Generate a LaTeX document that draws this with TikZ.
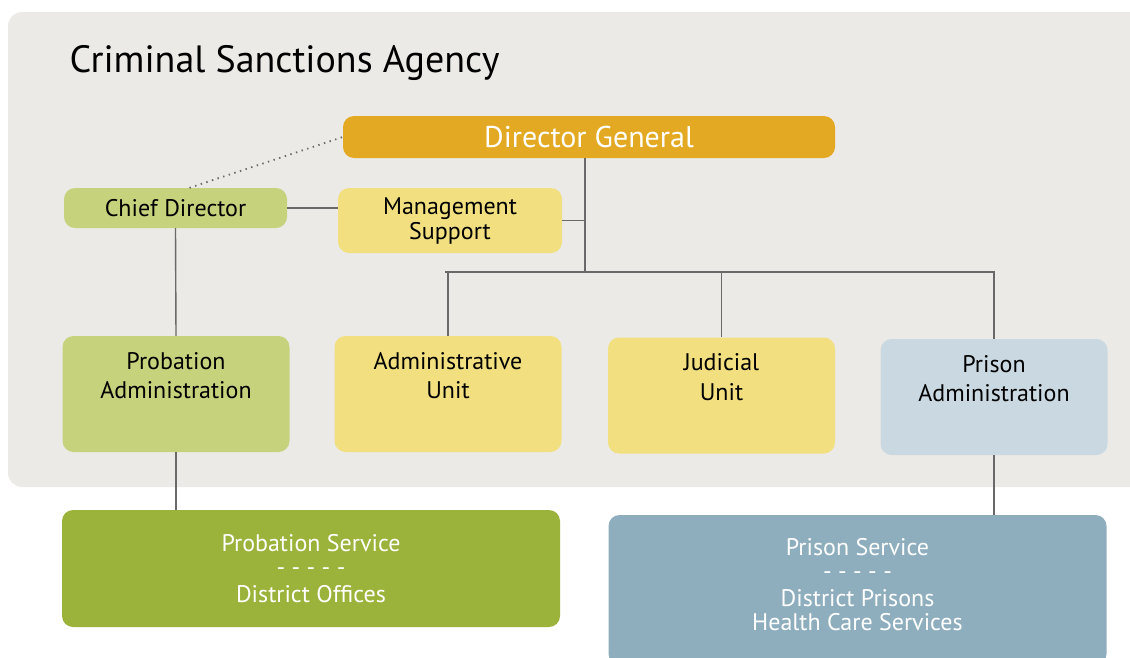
\documentclass[tikz,border=0pt]{standalone}
\usepackage{fontspec}
\setmainfont{PT Sans}
\usetikzlibrary{positioning,calc}
\definecolor{bggrey}{HTML}{ECEAE6}
\definecolor{dggold}{HTML}{E4A922}
\definecolor{lightgreen}{HTML}{C7D27C}
\definecolor{lightyellow}{HTML}{F1DF80}
\definecolor{lightblue}{HTML}{CAD9E1}
\definecolor{olive}{HTML}{9BB33B}
\definecolor{steelblue}{HTML}{8EAEBE}
\definecolor{linegrey}{HTML}{6A6868}

\begin{document}
\begin{tikzpicture}[x=1pt,y=-1pt,
    box/.style={rounded corners=11pt, inner sep=0pt, align=center},
    unitbox/.style={box, minimum width=227pt, minimum height=116pt},
    unittext/.style={anchor=north, align=center, font=\fontsize{24}{29.5}\selectfont},
    service/.style={box, minimum width=498pt},
    servicetext/.style={align=center, text=white, font=\fontsize{24}{24}\selectfont},
    link/.style={draw=linegrey, line width=1.4pt}]
    \clip (0,0) rectangle (1130,657);
    \useasboundingbox (0,0) rectangle (1130,657);
    % grey panel
    \fill[bggrey, rounded corners=14pt] (8,12) rectangle (1160,487);
    \node[anchor=base west, font=\fontsize{38}{40}\selectfont] (title) at (66,72) {Criminal Sanctions Agency};

    \node[box, fill=dggold, minimum width=492pt, minimum height=42pt, text=white,
          font=\fontsize{30}{30}\selectfont] (dg) at (589,137) {Director General};
    \node[box, fill=lightgreen, minimum width=223pt, minimum height=40pt,
          font=\fontsize{24}{26}\selectfont] (chief) at (175.5,208) {Chief Director};
    \node[box, fill=lightyellow, minimum width=224pt, minimum height=65pt,
          font=\fontsize{24}{25}\selectfont] (mgmt) at (450,220.5) {Management\\Support};

    \node[unitbox, fill=lightgreen] (probadm) at (176,394) {};
    \node[unitbox, fill=lightyellow] (admunit) at (448,394) {};
    \node[unitbox, fill=lightyellow] (judunit) at (721.5,395.5) {};
    \node[unitbox, fill=lightblue] (prisadm) at (994,397) {};
    \node[unittext] (probadmtext) at ([yshift=-13pt]probadm.north) {Probation\\Administration};
    \node[unittext] (admunittext) at ([yshift=-13pt]admunit.north) {Administrative\\Unit};
    \node[unittext] (judunittext) at ([yshift=-13pt]judunit.north) {Judicial\\Unit};
    \node[unittext] (prisadmtext) at ([yshift=-13pt]prisadm.north) {Prison\\Administration};

    \node[service, fill=olive, minimum height=117pt] (probserv) at (311,568.5) {};
    \node[service, fill=steelblue, minimum height=150pt] (prisserv) at (857.5,590) {};
    \node[servicetext] (probservtext) at (probserv.center)
        {Probation Service\\- - - - -\\[3pt]District Offices};
    \node[servicetext, anchor=north] (prisservtext) at ([yshift=-20pt]prisserv.north)
        {Prison Service\\- - - - -\\[3pt]District Prisons\\Health Care Services};

    \coordinate (busl) at (445,272);
    \coordinate (busm) at (585,272);
    \coordinate (busr) at (995,272);

    \draw[link] (busm |- dg.south) -- (busm);
    \draw[link] (busl) -- (busr);
    \draw[link] (mgmt.east) -- (mgmt.east -| busm);
    \draw[link] (chief.east) -- (chief.east -| mgmt.west);
    \draw[link] (chief.south) -- (probadm.north);
    \foreach \to in {admunit,judunit,prisadm}
        \draw[link] (\to.north |- busl) -- (\to.north);
    \foreach \from\to in {probadm/probserv,prisadm/prisserv}
        \draw[link] (\from.south) -- (\from.south |- \to.north);
    \draw[draw=linegrey, line width=1.8pt, dash pattern=on 1.4pt off 4.5pt]
        ([xshift=14pt]chief.north) -- (dg.west);
\end{tikzpicture}
\end{document}
